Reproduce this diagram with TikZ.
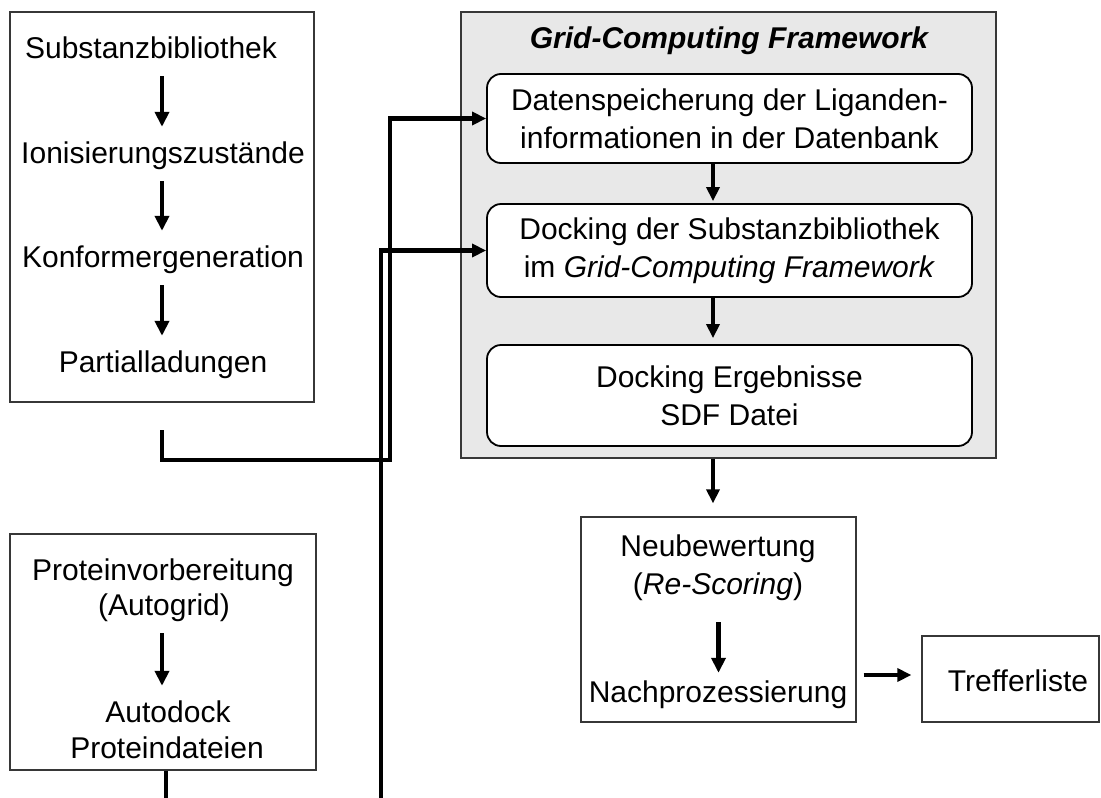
\documentclass[tikz,border=0pt]{standalone}
\usepackage{fontspec}
\setmainfont{Liberation Sans}
\usetikzlibrary{arrows.meta}
\definecolor{panel}{RGB}{232,232,232}
\definecolor{edge}{RGB}{55,55,55}
\begin{document}
\begin{tikzpicture}[x=1pt,y=-1pt,
  every node/.style={font=\fontsize{30}{38}\selectfont},
  txt/.style={inner sep=0pt, anchor=base, text height=22pt, text depth=6pt},
  plainbox/.style={draw=edge, line width=1.3pt, inner sep=0pt},
  stagebox/.style={draw=black, line width=1.8pt, rounded corners=14pt, fill=white,
                   minimum width=485pt, align=center, inner sep=0pt},
  flow/.style={line width=4.3pt, -{Triangle[length=15pt,width=14pt]},
               shorten <=12pt, shorten >=14pt},
  feed/.style={line width=4.3pt, -{Triangle[length=14pt,width=13pt]}},
  link/.style={line width=4.3pt},
]
\useasboundingbox (0,0) rectangle (1101,798);

% ligand preparation
\node[plainbox, minimum width=304pt, minimum height=390pt] (lig) at (162,207) {};
\coordinate (colA) at (162,0);
\node[txt] (s1) at (151,58)  {Substanzbibliothek};
\node[txt] (s2) at (163,163) {Ionisierungszustände};
\node[txt] (s3) at (163,267) {Konformergeneration};
\node[txt] (s4) at (163,372) {Partialladungen};
\draw[flow] (s1.south -| colA) -- (s2.north -| colA);
\draw[flow] (s2.south -| colA) -- (s3.north -| colA);
\draw[flow] (s3.south -| colA) -- (s4.north -| colA);

% protein preparation
\node[plainbox, minimum width=306pt, minimum height=236pt] (prot) at (163,652) {};
\node[txt] (p1) at (163,580) {Proteinvorbereitung};
\node[txt] (p2) at (164,615) {(Autogrid)};
\node[txt] (p3) at (168,722) {Autodock};
\node[txt] (p4) at (167,758) {Proteindateien};
\draw[flow] (p2.south -| colA) -- (p3.north -| colA);

% grid computing framework
\node[plainbox, fill=panel, minimum width=535pt, minimum height=446pt] (grid) at (728.5,235) {};
\node[txt, font={\fontsize{30}{38}\selectfont\bfseries\itshape}] (title) at (729,48) {Grid-Computing Framework};
\node[stagebox, minimum height=89pt] (store) at (729.5,118.5)
  {Datenspeicherung der Liganden-\\informationen in der Datenbank};
\node[stagebox, minimum height=93pt] (dock) at (729.5,250.5)
  {Docking der Substanzbibliothek\\im \textit{Grid-Computing Framework}};
\node[stagebox, minimum height=101pt] (result) at (729.5,395.5)
  {Docking Ergebnisse\\SDF Datei};
\coordinate (colB) at (713,0);
\draw[feed, shorten >=2pt] (store.south -| colB) -- (dock.north -| colB);
\draw[feed, shorten >=6pt] (dock.south -| colB) -- (result.north -| colB);

% post-processing
\node[plainbox, minimum width=275pt, minimum height=205pt] (post) at (718.5,619.5) {};
\node[txt] (n1) at (718,556) {Neubewertung};
\node[txt] (n2) at (718,594) {(\textit{Re-Scoring})};
\node[txt] (n3) at (718,702) {Nachprozessierung};
\draw[flow, shorten <=22pt, shorten >=7pt] (n2.south -| post) -- (n3.north -| post);
\draw[feed, shorten >=13pt] (grid.south -| colB) -- (post.north -| colB);

\node[plainbox, minimum width=177pt, minimum height=86pt] (hits) at (1010.5,679) {};
\node[txt] (hitstext) at (1018,691) {Trefferliste};
\coordinate (rowC) at (0,675);
\draw[feed, shorten <=7pt, shorten >=10pt] (post.east |- rowC) -- (hits.west |- rowC);

% connectors from the preparation steps into the framework
\coordinate (ligout) at (162,430);
\coordinate (bend) at (390,460);
\draw[feed] (ligout) |- (bend) |- (store.west);
\coordinate (protup) at (381,798);
\draw[feed] (protup) |- (dock.west);
\coordinate (protout) at (166,798);
\draw[link] (prot.south -| protout) -- (protout);
\end{tikzpicture}
\end{document}
